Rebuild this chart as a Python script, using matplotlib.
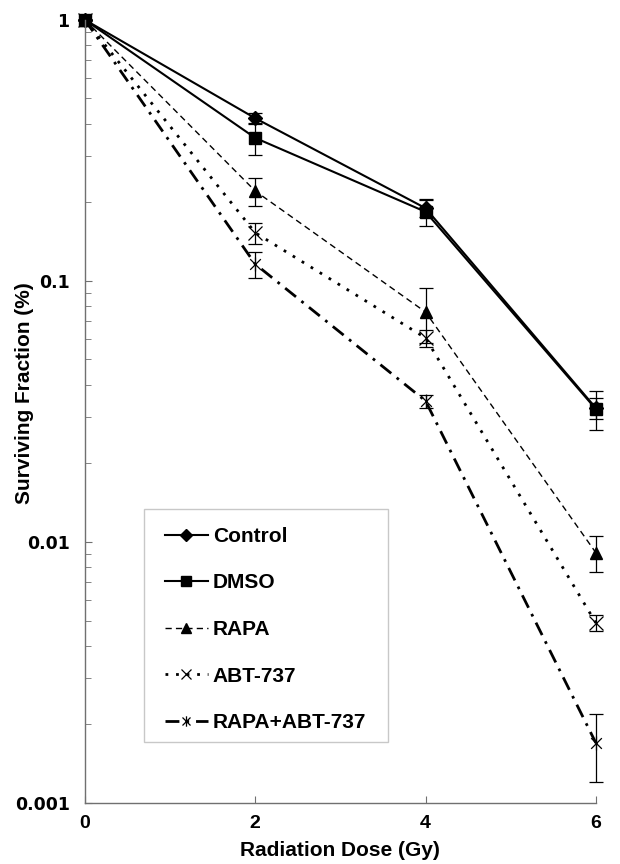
import matplotlib
matplotlib.use("Agg")
import matplotlib.pyplot as plt
from matplotlib.path import Path
from matplotlib.patches import Rectangle
import numpy as np

dose = [0, 2, 4, 6]
series = ["Control", "DMSO", "RAPA", "ABT-737", "RAPA+ABT-737"]
control = [1.0, 0.42, 0.19, 0.0326]
control_err = [0.0, 0.02, 0.015, 0.003]
dmso = [1.0, 0.353, 0.184, 0.0323]
dmso_err = [0.0, 0.05, 0.022, 0.0055]
rapa = [1.0, 0.221, 0.076, 0.0091]
rapa_err = [0.0, 0.027, 0.018, 0.0014]
abt = [1.0, 0.153, 0.0605, 0.0049]
abt_err = [0.0, 0.014, 0.0045, 0.00035]
combo = [1.0, 0.116, 0.0347, 0.00170]
combo_err = [0.0, 0.013, 0.002, 0.0005]

yticks = [0.001, 0.01, 0.1, 1]
yticklabels = ["0.001", "0.01", "0.1", "1"]
xticks = [0, 2, 4, 6]

star = Path([(-1, -1), (1, 1), (-1, 1), (1, -1), (0, -1.3), (0, 1.3)],
            [Path.MOVETO, Path.LINETO, Path.MOVETO, Path.LINETO, Path.MOVETO, Path.LINETO])

plt.rcParams['font.family'] = ['Liberation Sans', 'DejaVu Sans']

fig = plt.figure(figsize=(6.2, 8.64), dpi=100)
ax = fig.add_axes([0.137, 0.0706, 0.824, 0.9064])

styles = [
    (control, control_err, dict(color='black', lw=1.5, ls='-', marker='D', ms=7.5, mfc='black', mec='black')),
    (dmso, dmso_err, dict(color='black', lw=1.5, ls='-', marker='s', ms=9, mfc='black', mec='black')),
    (rapa, rapa_err, dict(color='black', lw=1.0, ls=(0, (4.5, 3)), marker='^', ms=9, mfc='black', mec='black')),
    (abt, abt_err, dict(color='black', lw=2.0, ls=(0, (1, 2.8)), marker='x', ms=9.5, mew=0.9, mfc='black', mec='black')),
    (combo, combo_err, dict(color='black', lw=2.0, ls=(0, (5, 2.5, 1, 2.5)), marker=star, ms=10, mew=0.9, mfc='none', mec='black')),
]

handles = []
for (vals, errs, st), name in zip(styles, series):
    eb = ax.errorbar(dose, vals, yerr=errs, ecolor='black', elinewidth=0.9,
                     capsize=5, capthick=0.9, label=name, **st)
    for ch in eb.get_children():
        ch.set_clip_on(False)
    handles.append(eb)

ax.set_yscale('log')
ax.set_ylim(0.001, 1)
ax.set_xlim(0, 6)
ax.set_yticks(yticks)
ax.set_yticklabels(yticklabels, fontsize=12.5, fontweight='bold', family='DejaVu Sans')
ax.set_xticks(xticks)
ax.set_xticklabels([str(x) for x in xticks], fontsize=14, fontweight='bold')
ax.tick_params(axis='y', which='major', direction='in', length=5, color='#707070', pad=11)
ax.tick_params(axis='y', which='minor', direction='in', length=4, color='#707070')
ax.tick_params(axis='x', which='major', direction='in', length=5, color='#707070', pad=8.5)
for s in ['top', 'right']:
    ax.spines[s].set_visible(False)
for s in ['left', 'bottom']:
    ax.spines[s].set_color('#707070')
    ax.spines[s].set_linewidth(1.0)

ax.set_xlabel("Radiation Dose (Gy)", fontsize=15, fontweight='bold', labelpad=6.5)
ax.set_ylabel("Surviving Fraction (%)", fontsize=15, fontweight='bold')
ax.yaxis.set_label_coords(-0.10, 0.524)

# legend frame
fig.add_artist(Rectangle((144 / 620, 1 - 742 / 864), 244 / 620, 233 / 864,
                         transform=fig.transFigure, fill=False,
                         edgecolor='#c8c8c8', lw=1.0))

leg_handles = [h.lines[0] for h in handles]
leg = fig.legend(leg_handles, series, loc='upper left',
                 bbox_to_anchor=(165 / 620, 1 - 527 / 864),
                 frameon=False,
                 prop=dict(family='Liberation Sans', weight='bold', size=15),
                 handlelength=2.05, handletextpad=0.25, labelspacing=1.32,
                 borderpad=0, borderaxespad=0, markerscale=0.75)

fig.savefig("out.png", dpi=100)
